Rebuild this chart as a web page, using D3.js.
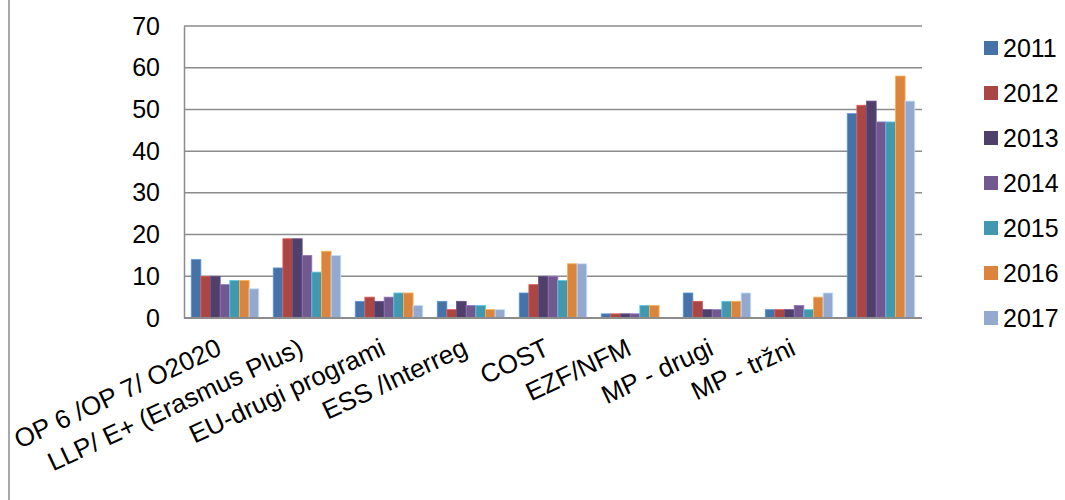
<!DOCTYPE html>
<html>
<head>
<meta charset="utf-8">
<script src="https://cdn.jsdelivr.net/npm/d3@7"></script>
<style>
  body { margin: 0; background: #fff; }
  text { font-family: "Liberation Sans", Arial, sans-serif; fill: #000; }
</style>
</head>
<body>
<svg id="chart"></svg>
<script>
const categories = ["OP 6 /OP 7/ O2020", "LLP/ E+ (Erasmus Plus)", "EU-drugi programi", "ESS /Interreg", "COST", "EZF/NFM", "MP - drugi", "MP - tržni", ""];
const years = ["2011", "2012", "2013", "2014", "2015", "2016", "2017"];
const values2011 = [14, 12, 4, 4, 6, 1, 6, 2, 49];
const values2012 = [10, 19, 5, 2, 8, 1, 4, 2, 51];
const values2013 = [10, 19, 4, 4, 10, 1, 2, 2, 52];
const values2014 = [8, 15, 5, 3, 10, 1, 2, 3, 47];
const values2015 = [9, 11, 6, 3, 9, 3, 4, 2, 47];
const values2016 = [9, 16, 6, 2, 13, 3, 4, 5, 58];
const values2017 = [7, 15, 3, 2, 13, 0, 6, 6, 52];
const yTicks = [0, 10, 20, 30, 40, 50, 60, 70];
const colors = ["#4572A7", "#AA4643", "#4F3F6B", "#71588F", "#4198AF", "#DB843D", "#93A9CF"];

const series = [values2011, values2012, values2013, values2014, values2015, values2016, values2017];

const width = 1065;
const height = 500;
const margin = {top : 26, left : 184, bottom : 182, right : 143};

const svg = d3.select("#chart")
    .attr("width", width)
    .attr("height", height);

// left border of the chart frame
svg.append("line")
    .attr("x1", 9).attr("x2", 9)
    .attr("y1", 0).attr("y2", height)
    .attr("stroke", "#8c8c8c")
    .attr("stroke-width", 1.5);

const x0 = d3.scaleBand()
    .domain(categories.map((c, i) => i))
    .range([margin.left, width - margin.right]);

const x1 = d3.scaleBand()
    .domain(years)
    .range([0, x0.bandwidth()])
    .paddingOuter(0.75);

const y = d3.scaleLinear()
    .domain([0, 70])
    .range([height - margin.bottom, margin.top]);

// gridlines
svg.append("g")
    .selectAll("line")
    .data(yTicks)
    .join("line")
    .attr("x1", margin.left)
    .attr("x2", width - margin.right)
    .attr("y1", d => y(d))
    .attr("y2", d => y(d))
    .attr("stroke", "#8c8c8c")
    .attr("stroke-width", 1.5);

// bars
const rows = categories.map((c, i) => ({i, vals: series.map(s => s[i])}));

svg.append("g")
    .selectAll("g")
    .data(rows)
    .join("g")
    .attr("transform", d => `translate(${x0(d.i)},0)`)
    .selectAll("rect")
    .data(d => d.vals.map((v, k) => ({key: years[k], v, k})))
    .join("rect")
    .attr("x", d => x1(d.key))
    .attr("y", d => y(d.v))
    .attr("width", x1.bandwidth())
    .attr("height", d => y(0) - y(d.v))
    .attr("fill", d => colors[d.k])
    .attr("stroke", d => d3.color(colors[d.k]).brighter(0.8))
    .attr("stroke-width", 0.8);

// y axis
const yAxis = g => g
    .attr("transform", `translate(${margin.left},0)`)
    .call(d3.axisLeft(y).tickValues(yTicks).tickSize(0).tickPadding(24))
    .call(g => g.select(".domain").attr("stroke", "#8c8c8c").attr("stroke-width", 1.5))
    .call(g => g.selectAll("text")
        .attr("font-size", 25)
        .attr("font-family", "Liberation Sans, Arial, sans-serif")
        .attr("fill", "#000"));

svg.append("g").call(yAxis);

// x axis line
svg.append("line")
    .attr("x1", margin.left).attr("x2", width - margin.right)
    .attr("y1", y(0)).attr("y2", y(0))
    .attr("stroke", "#8c8c8c")
    .attr("stroke-width", 2);

// rotated category labels, anchored at the end on the category centre
svg.append("g")
    .selectAll("text")
    .data(categories)
    .join("text")
    .attr("transform", (d, i) => `translate(${x0(i) + x0.bandwidth() / 2 - 2},${y(0) + 36}) rotate(-25)`)
    .attr("text-anchor", "end")
    .attr("font-size", 26)
    .text(d => d);

// legend
const legend = svg.append("g")
    .attr("transform", "translate(984,48)");

const item = legend.selectAll("g")
    .data(years)
    .join("g")
    .attr("transform", (d, i) => `translate(0,${i * 45})`);

item.append("rect")
    .attr("x", 0)
    .attr("y", -7)
    .attr("width", 14)
    .attr("height", 14)
    .attr("fill", (d, i) => colors[i]);

item.append("text")
    .attr("x", 19)
    .attr("y", 0)
    .attr("dy", "0.35em")
    .attr("font-size", 25)
    .text(d => d);
</script>
</body>
</html>
